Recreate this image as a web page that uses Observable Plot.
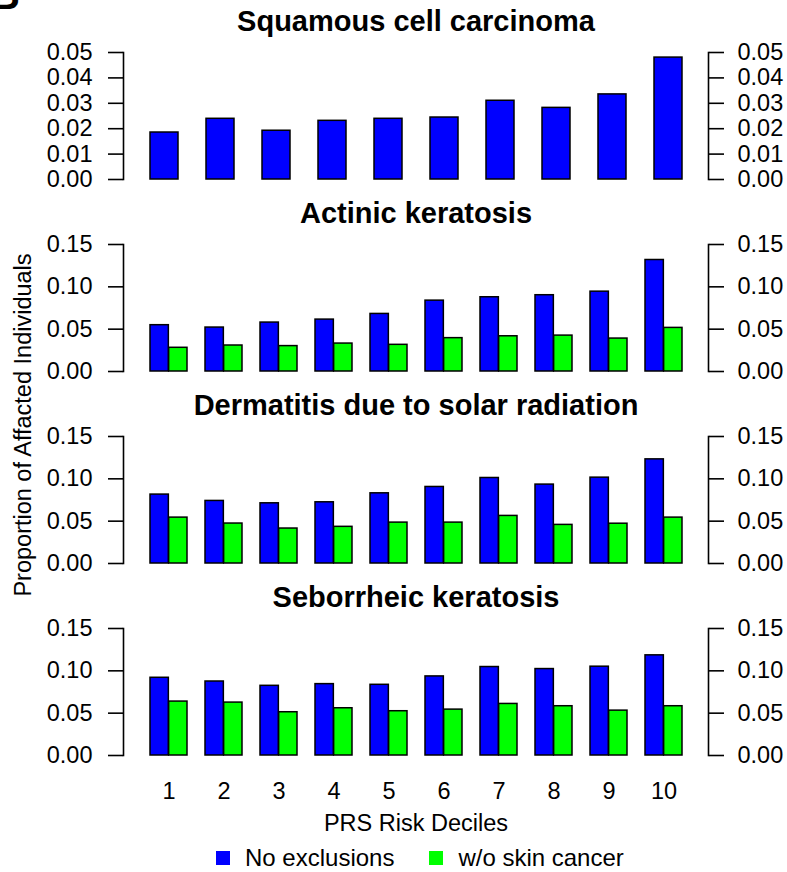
<!DOCTYPE html>
<html>
<head>
<meta charset="utf-8">
<script src="https://cdn.jsdelivr.net/npm/d3@7"></script>
<script src="https://cdn.jsdelivr.net/npm/@observablehq/plot@0.6"></script>
<style>
  html, body { margin: 0; padding: 0; background: white; }
  #fig { position: relative; width: 787px; height: 872px; background: white; overflow: hidden;
         font-family: "Liberation Sans", Arial, Helvetica, sans-serif; color: black; }
  .panel { position: absolute; left: 0; }
  .legend { position: absolute; left: 216px; top: 846px; display: flex; align-items: center; font-size: 24px; white-space: nowrap; }
  .legend .sw { width: 14px; height: 14px; display: inline-block; margin-right: 15px; }
  .legend .item { display: flex; align-items: center; margin-right: 35px; line-height: 24px; }
  .ylab { position: absolute; font-size: 23.5px; line-height: 23.5px; white-space: nowrap; transform: translate(-50%, -50%) rotate(-90deg); }
</style>
</head>
<body>
<div id="fig"></div>
<script>
// ---- data ----
const deciles = [1, 2, 3, 4, 5, 6, 7, 8, 9, 10];
const panelTitles = ["Squamous cell carcinoma", "Actinic keratosis", "Dermatitis due to solar radiation", "Seborrheic keratosis"];
const seriesNames = ["No exclusions", "w/o skin cancer"];
const seriesColors = ["#0000FF", "#00FF00"];

const sccAll  = [0.0185, 0.0239, 0.0192, 0.0231, 0.0239, 0.0244, 0.0310, 0.0282, 0.0335, 0.0480];
const akAll   = [0.0547, 0.0519, 0.0578, 0.0613, 0.0680, 0.0837, 0.0877, 0.0901, 0.0943, 0.1317];
const akNoSC  = [0.0280, 0.0307, 0.0300, 0.0330, 0.0315, 0.0394, 0.0416, 0.0424, 0.0389, 0.0515];
const derAll  = [0.0814, 0.0739, 0.0711, 0.0723, 0.0829, 0.0904, 0.1010, 0.0932, 0.1014, 0.1230];
const derNoSC = [0.0542, 0.0472, 0.0413, 0.0433, 0.0483, 0.0483, 0.0562, 0.0456, 0.0470, 0.0542];
const sebAll  = [0.0918, 0.0874, 0.0823, 0.0843, 0.0835, 0.0934, 0.1045, 0.1021, 0.1049, 0.1183];
const sebNoSC = [0.0637, 0.0625, 0.0511, 0.0558, 0.0523, 0.0542, 0.0609, 0.0582, 0.0530, 0.0582];

const ticksSmall = [0, 0.01, 0.02, 0.03, 0.04, 0.05];
const ticksLarge = [0, 0.05, 0.10, 0.15];

const yLabel = "Proportion of Affacted Individuals";
const xLabel = "PRS Risk Deciles";

// ---- layout ----
const W = 787, ML = 123, MR = 79, MT = 52, PH = 127, STEP = 192;
const fig = document.getElementById("fig");
const fmt = d3.format(".2f");

function makePanel(i, title, seriesList, ymax, yticks, bottom) {
  const single = seriesList.length === 1;
  const padInner = single ? 0.5 : 1 / 3;
  const n = deciles.length;
  // outer padding so bars start 22px inside the axis lines
  const padOuter = 22 / ((W - ML - MR - 44) / (n - padInner));
  const bandStep = (W - ML - MR) / (n - padInner + 2 * padOuter);
  const bw = bandStep * (1 - padInner);
  const H = bottom ? 260 : STEP;
  const marks = [];
  seriesList.forEach((s, k) => {
    const data = deciles.map((d, j) => ({decile: d, value: s.values[j]}));
    marks.push(Plot.barY(data, {
      x: "decile", y: "value", fill: s.color, stroke: "black", strokeWidth: 1.5,
      insetLeft: single ? 0 : (k === 0 ? 0 : bw / 2),
      insetRight: single ? 0 : (k === 0 ? bw / 2 : 0)
    }));
  });
  marks.push(Plot.frame({anchor: "left", strokeWidth: 1.6}));
  marks.push(Plot.frame({anchor: "right", strokeWidth: 1.6}));
  marks.push(Plot.axisY({anchor: "left", ticks: yticks, tickSize: 15, tickPadding: 16, tickFormat: fmt, label: null, strokeWidth: 1.6}));
  marks.push(Plot.axisY({anchor: "right", ticks: yticks, tickSize: 15, tickPadding: 14, tickFormat: fmt, label: null, strokeWidth: 1.6}));
  marks.push(Plot.text([title], {text: d => d, frameAnchor: "top", dy: -42, fontSize: 29, fontWeight: "bold"}));
  if (bottom) {
    marks.push(Plot.axisX({anchor: "bottom", tickSize: 0, tickPadding: 27, label: null}));
    marks.push(Plot.text([xLabel], {text: d => d, frameAnchor: "bottom", dy: 75}));
  }
  const svg = Plot.plot({
    width: W, height: H,
    marginLeft: ML, marginRight: MR, marginTop: MT, marginBottom: H - MT - PH,
    x: {type: "band", domain: deciles, paddingInner: padInner, paddingOuter: padOuter, align: 0.5, axis: null},
    y: {domain: [0, ymax], axis: null},
    style: {fontSize: "23.5px", fontFamily: "'Liberation Sans', Arial, Helvetica, sans-serif", color: "black", background: "transparent", overflow: "visible"},
    marks
  });
  const wrap = document.createElement("div");
  wrap.className = "panel";
  wrap.style.top = (i * STEP) + "px";
  wrap.appendChild(svg);
  fig.appendChild(wrap);
}

makePanel(0, panelTitles[0], [{values: sccAll, color: seriesColors[0]}], 0.05, ticksSmall, false);
makePanel(1, panelTitles[1], [{values: akAll, color: seriesColors[0]}, {values: akNoSC, color: seriesColors[1]}], 0.15, ticksLarge, false);
makePanel(2, panelTitles[2], [{values: derAll, color: seriesColors[0]}, {values: derNoSC, color: seriesColors[1]}], 0.15, ticksLarge, false);
makePanel(3, panelTitles[3], [{values: sebAll, color: seriesColors[0]}, {values: sebNoSC, color: seriesColors[1]}], 0.15, ticksLarge, true);

// y label
const yl = document.createElement("div");
yl.className = "ylab";
yl.style.left = "24px";
yl.style.top = "425px";
yl.textContent = yLabel;
fig.appendChild(yl);

// legend
const lg = document.createElement("div");
lg.className = "legend";
seriesNames.forEach((name, k) => {
  const it = document.createElement("div");
  it.className = "item";
  const sw = document.createElement("span");
  sw.className = "sw";
  sw.style.background = seriesColors[k];
  const tx = document.createElement("span");
  tx.textContent = name;
  it.appendChild(sw); it.appendChild(tx);
  lg.appendChild(it);
});
fig.appendChild(lg);

// cropped panel letter at top-left (as in the reference figure)
const letter = document.createElementNS("http://www.w3.org/2000/svg", "svg");
letter.setAttribute("width", 40); letter.setAttribute("height", 20);
letter.style.position = "absolute"; letter.style.left = "0px"; letter.style.top = "0px";
const lt = document.createElementNS("http://www.w3.org/2000/svg", "text");
lt.setAttribute("x", 20); lt.setAttribute("y", 9); lt.setAttribute("text-anchor", "end");
lt.setAttribute("font-size", 40); lt.setAttribute("font-weight", "bold");
lt.setAttribute("font-family", "'Liberation Sans', Arial, sans-serif");
lt.textContent = "B";
letter.appendChild(lt);
fig.appendChild(letter);
</script>
</body>
</html>
